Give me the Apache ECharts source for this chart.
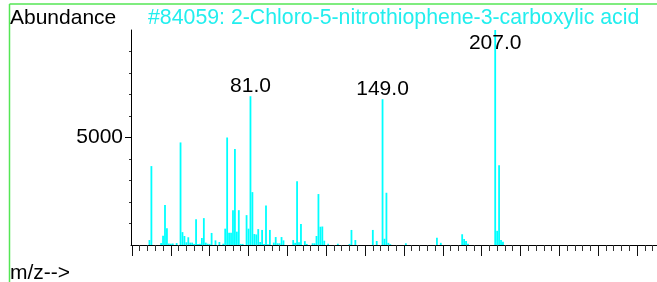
<!DOCTYPE html>
<html>
<head>
<meta charset="utf-8">
<script src="https://cdn.jsdelivr.net/npm/echarts@6/dist/echarts.min.js"></script>
<style>
  html, body { margin: 0; padding: 0; background: #fff; }
  #spec { width: 657px; height: 282px; }
</style>
</head>
<body>
<div id="spec"></div>
<script>
// m/z values and their abundances
const mz = [29, 30, 35, 36, 37, 38, 39, 40, 41, 43, 45, 46, 47, 48, 49, 50, 51, 52, 53, 54,
  55, 56, 57, 58, 59, 60, 61, 63, 65, 67, 68, 69, 70, 71, 72, 73, 74, 75, 76, 77,
  79, 80, 81, 82, 83, 84, 85, 86, 87, 88, 89, 90, 91, 93, 94, 95, 96, 97, 98, 103,
  104, 105, 106, 107, 109, 110, 113, 114, 115, 116, 117, 118, 119, 121, 126, 132, 133, 135, 144, 146,
  149, 150, 151, 152, 153, 161, 177, 179, 190, 191, 192, 193, 207, 208, 209, 210, 211]
const abundance = [230, 3670, 90, 430, 1860, 780, 70, 60, 70, 90, 4770, 600, 420, 125, 360, 110, 110, 50, 1200, 50,
  60, 325, 1250, 110, 60, 50, 560, 215, 140, 60, 760, 5000, 570, 570, 1620, 4460, 620, 1620, 50, 50,
  1390, 760, 6920, 2460, 510, 490, 740, 140, 700, 50, 1840, 40, 700, 110, 370, 80, 80, 370, 215, 230,
  100, 2970, 130, 975, 180, 50, 80, 80, 420, 2370, 850, 860, 200, 60, 60, 50, 700, 230, 700, 185,
  6780, 290, 2430, 100, 40, 80, 340, 100, 500, 280, 185, 60, 9999, 660, 3710, 230, 155]
const labelled = [81, 149, 207]

const majorTicks = [20, 40, 60, 80, 100, 120, 140, 160, 180, 200, 220, 240, 260, 280]
const minorTicks = []
for (let v = 24; v <= 288; v += 4) {
  if (v % 20 !== 0) minorTicks.push(v)
}
const yLabels = [5000]

const font = 'Liberation Sans, Arial, sans-serif'
const cyan = '#00FFFF'

const c = echarts.init(document.getElementById('spec'), null, { renderer: 'canvas' })

const points = mz.map((m, i) => {
  const item = { value: [m, abundance[i]] }
  if (labelled.indexOf(m) >= 0) {
    item.label = {
      show: true,
      formatter: m.toFixed(1),
      position: m === 207 ? 'insideTop' : 'top',
      distance: m === 207 ? 3 : 0,
      color: '#000',
      fontSize: 21,
      fontFamily: font
    }
  }
  return item
})

const xBase = {
  type: 'value',
  min: 19.5,
  max: 290.3,
  position: 'bottom',
  splitLine: { show: false },
  axisLabel: { show: false }
}

c.setOption({
  animation: false,
  grid: { left: 131, right: 0, top: 30, bottom: 37 },
  xAxis: [
    Object.assign({}, xBase, {
      axisLine: { show: true, lineStyle: { color: '#000', width: 1 } },
      axisTick: { show: true, customValues: majorTicks, length: 11, lineStyle: { color: '#111' } }
    }),
    Object.assign({}, xBase, {
      axisLine: { show: false },
      axisTick: { show: true, customValues: minorTicks, length: 6, lineStyle: { color: '#333' } }
    })
  ],
  yAxis: {
    type: 'value',
    min: 0,
    max: 10000,
    interval: 5000,
    splitLine: { show: false },
    axisLine: { show: true, lineStyle: { color: '#000', width: 1 } },
    axisTick: { show: true, customValues: yLabels, length: 6, lineStyle: { color: '#000' } },
    minorTick: { show: true, splitNumber: 5, length: 2, lineStyle: { color: '#333' } },
    axisLabel: {
      show: true,
      customValues: yLabels,
      formatter: (v) => String(v),
      margin: 8,
      color: '#000',
      fontSize: 21,
      fontFamily: font
    }
  },
  series: [
    {
      type: 'bar',
      xAxisIndex: 0,
      barWidth: 1.8,
      itemStyle: { color: cyan },
      data: points
    }
  ],
  graphic: [
    { type: 'line', shape: { x1: 9.5, y1: 4, x2: 657, y2: 4 }, style: { stroke: '#55e655', lineWidth: 1.5 } },
    { type: 'line', shape: { x1: 9.5, y1: 4, x2: 9.5, y2: 282 }, style: { stroke: '#55e655', lineWidth: 1.5 } },
    {
      type: 'text', left: 10, top: 8,
      style: { text: 'Abundance', fill: '#000', font: '21px ' + font }
    },
    {
      type: 'text', left: 148, top: 8,
      style: { text: '#84059: 2-Chloro-5-nitrothiophene-3-carboxylic acid', fill: '#22EEEE', font: '21.3px ' + font }
    },
    {
      type: 'text', left: 10, top: 263,
      style: { text: 'm/z-->', fill: '#000', font: '21px ' + font }
    }
  ]
})
</script>
</body>
</html>
